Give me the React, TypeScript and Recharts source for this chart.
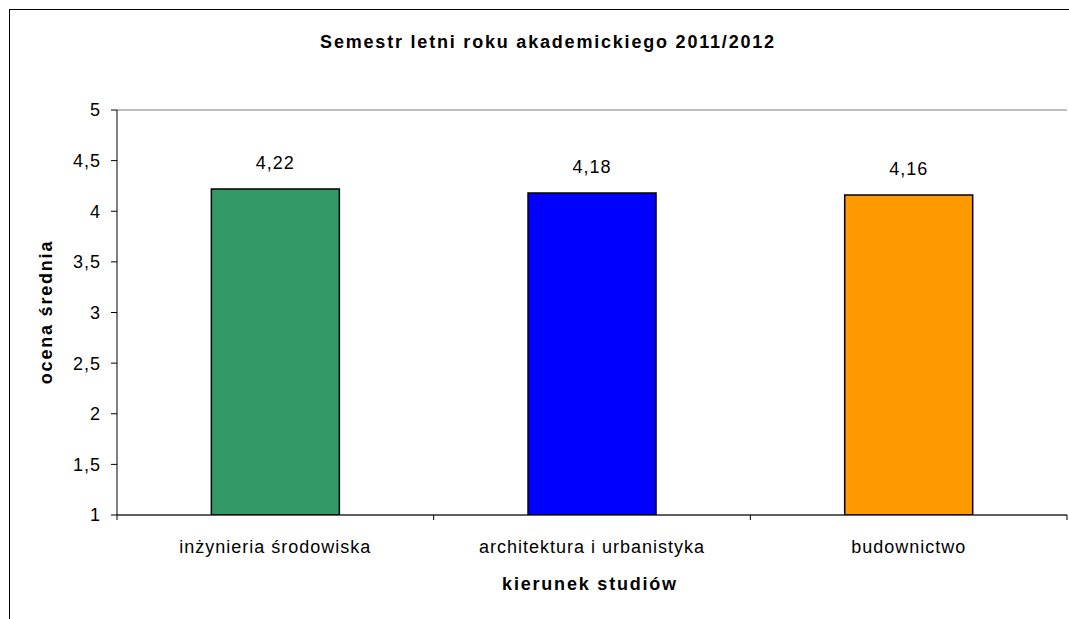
import React from 'react';
import { BarChart, Bar, XAxis, YAxis, CartesianGrid, Cell, LabelList } from 'recharts';

const categories = ['inżynieria środowiska', 'architektura i urbanistyka', 'budownictwo'];
const values = [4.22, 4.18, 4.16];
const barColors = ['#339966', '#0000FF', '#FF9900'];
const yTicks = [1, 1.5, 2, 2.5, 3, 3.5, 4, 4.5, 5];

const title = 'Semestr letni roku akademickiego 2011/2012';
const xTitle = 'kierunek studiów';
const yTitle = 'ocena średnia';

const data = categories.map((c, i) => ({ name: c, value: values[i] }));

const FONT = '"Liberation Sans", Arial, sans-serif';
const comma = (v: number | string) => String(v).replace('.', ',');

const CategoryTick = (props: any) => {
  const { x, y, payload, index, visibleTicksCount } = props;
  const half = payload && payload.offset ? payload.offset : 0;
  const isLast = index === visibleTicksCount - 1;
  return (
    <g>
      <line x1={x - half} x2={x - half} y1={y} y2={y + 5} stroke="#000" strokeWidth={1} />
      {isLast && <line x1={x + half} x2={x + half} y1={y} y2={y + 5} stroke="#000" strokeWidth={1} />}
      <text x={x} y={y + 25} dy="0.71em" textAnchor="middle" fill="#000" fontSize={18} letterSpacing={1} fontFamily={FONT}>
        {payload.value}
      </text>
    </g>
  );
};

export default function App() {
  return (
    <div style={{ position: 'absolute', left: 0, top: 0, width: 1069, height: 619, overflow: 'hidden', background: '#fff', fontFamily: FONT }}>
      <div style={{ position: 'absolute', left: 9, top: 9, width: 1100, height: 700, borderLeft: '1px solid #000', borderTop: '1px solid #000' }} />
      <div style={{ position: 'absolute', left: 0, top: 0 }}>
        <BarChart
          width={1069}
          height={619}
          data={data}
          margin={{ top: 110, right: 2, left: 57, bottom: 103 }}
          barCategoryGap="29.8%"
          style={{ fontFamily: FONT }}
        >
          <CartesianGrid vertical={false} stroke="#808080" strokeWidth={1} />
          <XAxis
            dataKey="name"
            xAxisId="cat"
            height={1}
            tickLine={false}
            tickSize={0}
            tickMargin={0}
            axisLine={{ stroke: '#000', strokeWidth: 1 }}
            interval={0}
            tick={CategoryTick}
          />
          <YAxis
            yAxisId="left"
            domain={[1, 5]}
            ticks={yTicks}
            width={60}
            tickSize={6}
            tickMargin={10}
            tickFormatter={comma}
            axisLine={{ stroke: '#000', strokeWidth: 1 }}
            tickLine={{ stroke: '#000' }}
            tick={{ fill: '#000', fontSize: 18, letterSpacing: 1 }}
            allowDataOverflow
          />
          <YAxis
            yAxisId="right"
            orientation="right"
            domain={[1, 5]}
            width={0}
            tick={false}
            tickLine={false}
            axisLine={{ stroke: '#808080', strokeWidth: 1 }}
          />
          <Bar dataKey="value" xAxisId="cat" yAxisId="left" stroke="#000" strokeWidth={1.5} isAnimationActive={false}>
            {data.map((d, i) => (
              <Cell key={d.name} fill={barColors[i]} />
            ))}
            <LabelList
              dataKey="value"
              position="top"
              offset={20}
              formatter={comma}
              style={{ fill: '#000', fontSize: 18, letterSpacing: 1, fontFamily: FONT }}
            />
          </Bar>
        </BarChart>
      </div>
      <div style={{ position: 'absolute', left: 548, top: 33, transform: 'translateX(-50%)', whiteSpace: 'nowrap', fontSize: 18, lineHeight: '18px', fontWeight: 'bold', letterSpacing: 1.8, color: '#000' }}>
        {title}
      </div>
      <div style={{ position: 'absolute', left: 590, top: 575, transform: 'translateX(-50%)', whiteSpace: 'nowrap', fontSize: 18, lineHeight: '18px', fontWeight: 'bold', letterSpacing: 1.8, color: '#000' }}>
        {xTitle}
      </div>
      <div style={{ position: 'absolute', left: 46, top: 312, width: 0, height: 0 }}>
        <div style={{ position: 'absolute', left: 0, top: 0, transform: 'translate(-50%, -50%) rotate(-90deg)', whiteSpace: 'nowrap', fontSize: 18, lineHeight: '18px', fontWeight: 'bold', letterSpacing: 1.8, color: '#000' }}>
          {yTitle}
        </div>
      </div>
    </div>
  );
}
